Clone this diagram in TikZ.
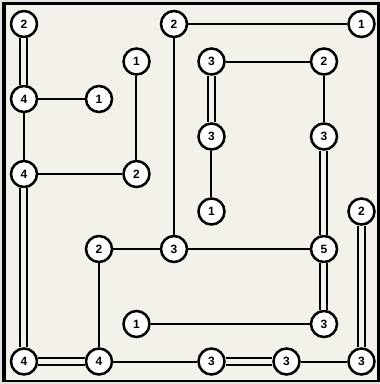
\documentclass[tikz,border=0pt]{standalone}
\usepackage{fontspec}
\setmainfont{Liberation Sans}
\usepackage{tikz}
\definecolor{board}{HTML}{F4F1EA}
\definecolor{rim}{HTML}{E4E2DC}

\begin{document}
\begin{tikzpicture}[x=37.5pt,y=-37.5pt]
\tikzstyle{every node}+=[inner sep=0pt]
\tikzstyle{island}=[circle,draw=black,fill=white,line width=2.5pt,minimum size=26pt,font=\bfseries\fontsize{12}{14}\selectfont]
\tikzstyle{one}=[draw=black,line width=2pt]
\tikzstyle{two}=[draw=black,line width=2pt,double=board,double distance=5pt]
\useasboundingbox (-0.64,-0.64) rectangle (9.4933,9.6);
\fill [rim] (-0.64,-0.64) rectangle (9.4933,9.6);
\filldraw [fill=board,draw=black,line width=2.5pt] (-0.5333,-0.5533) rectangle (9.46,9.52);
\draw [black,line width=4pt] (-0.5333,-0.5866) -- (-0.5333,9.5533);
% islands, column then row
\node [island] (i00) at (0,0) {2};
\node [island] (i40) at (4,0) {2};
\node [island] (i90) at (9,0) {1};
\node [island] (i31) at (3,1) {1};
\node [island] (i51) at (5,1) {3};
\node [island] (i81) at (8,1) {2};
\node [island] (i02) at (0,2) {4};
\node [island] (i22) at (2,2) {1};
\node [island] (i53) at (5,3) {3};
\node [island] (i83) at (8,3) {3};
\node [island] (i04) at (0,4) {4};
\node [island] (i34) at (3,4) {2};
\node [island] (i55) at (5,5) {1};
\node [island] (i95) at (9,5) {2};
\node [island] (i26) at (2,6) {2};
\node [island] (i46) at (4,6) {3};
\node [island] (i86) at (8,6) {5};
\node [island] (i38) at (3,8) {1};
\node [island] (i88) at (8,8) {3};
\node [island] (i09) at (0,9) {4};
\node [island] (i29) at (2,9) {4};
\node [island] (i59) at (5,9) {3};
\node [island] (i79) at (7,9) {3};
\node [island] (i99) at (9,9) {3};
% bridges
\draw [two] (i00) -- (i02);
\draw [one] (i02) -- (i22);
\draw [one] (i02) -- (i04);
\draw [one] (i04) -- (i34);
\draw [one] (i31) -- (i34);
\draw [two] (i04) -- (i09);
\draw [two] (i09) -- (i29);
\draw [one] (i26) -- (i29);
\draw [one] (i26) -- (i46);
\draw [one] (i40) -- (i46);
\draw [one] (i40) -- (i90);
\draw [one] (i51) -- (i81);
\draw [two] (i51) -- (i53);
\draw [one] (i53) -- (i55);
\draw [one] (i81) -- (i83);
\draw [two] (i83) -- (i86);
\draw [one] (i46) -- (i86);
\draw [two] (i86) -- (i88);
\draw [one] (i38) -- (i88);
\draw [one] (i29) -- (i59);
\draw [two] (i59) -- (i79);
\draw [one] (i79) -- (i99);
\draw [two] (i95) -- (i99);
\end{tikzpicture}
\end{document}
